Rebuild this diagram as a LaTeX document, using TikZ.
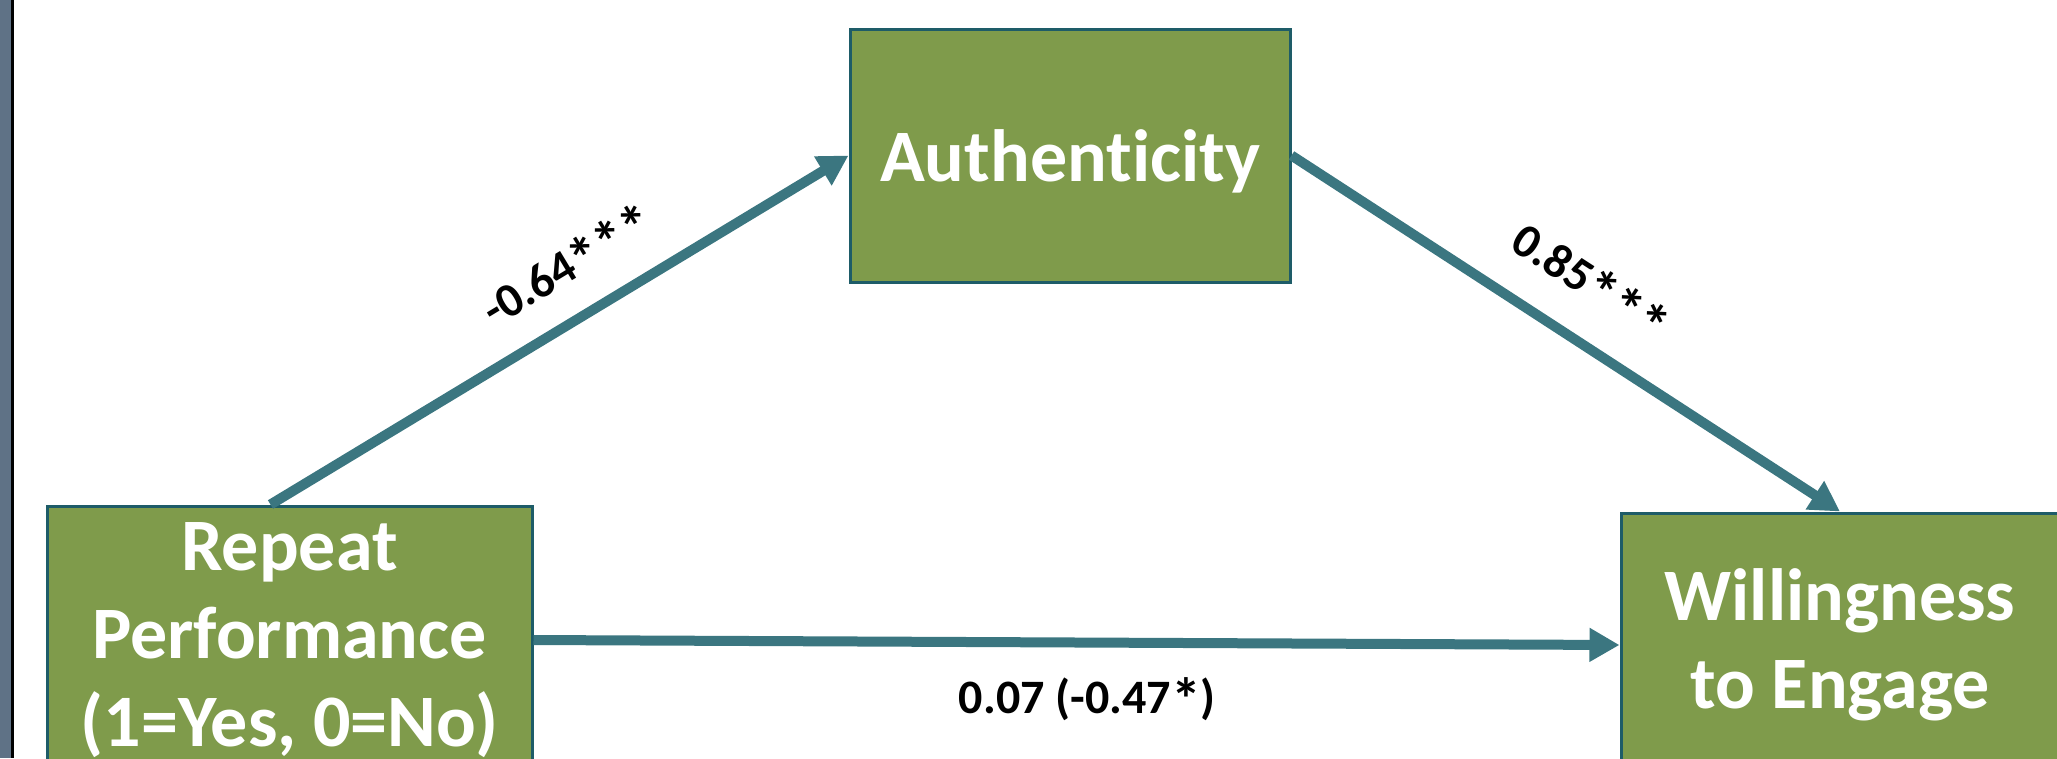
\documentclass[tikz,border=0pt]{standalone}
\usepackage{fontspec}
\setmainfont[Ligatures=NoCommon]{Carlito}
\usetikzlibrary{arrows.meta,positioning}
\definecolor{greenc}{HTML}{7F9B4B}
\definecolor{edgec}{HTML}{1E5C68}
\definecolor{tealc}{HTML}{3B7680}
\definecolor{barc}{HTML}{5F7286}
\newcommand{\sig}[1]{{\fontsize{60}{60}\selectfont\raisebox{-7pt}{#1}}}

\begin{document}
\begin{tikzpicture}[x=1pt, y=-1pt,
  box/.style={draw=edgec, line width=3pt, fill=greenc, text=white, align=center, inner sep=0pt, font=\bfseries\fontsize{74}{88}\selectfont},
  arr/.style={-{Triangle[length=30pt,width=32pt]}, tealc, line width=10pt},
  coef/.style={font=\bfseries\fontsize{48}{56}\selectfont, text=black}]

\useasboundingbox (0,0) rectangle (2057,758);
\clip (0,0) rectangle (2057,758);
\fill[barc] (0,0) rectangle (11,758);
\fill[black] (11,0) rectangle (14,758);

\node[box, minimum width=440pt, minimum height=253pt, text depth=0pt] (auth) at (1070,155.5) {Authenticity};
\node[box, minimum width=485pt, minimum height=268pt, below left=221pt and 315pt of auth] (rep)
  {Repeat\\Performance\\(1=Yes, 0=No)};
\node[box, minimum width=438pt, minimum height=264pt, below right=228pt and 328pt of auth] (will)
  {Willingness\\to Engage};

\draw[arr] ([xshift=-19pt]rep.north) -- node[coef, sloped, above=20pt, pos=0.56] (lab1) {-0.64\sig{***}} (auth.west);
\draw[arr] (auth.east) -- node[coef, sloped, above=25pt, pos=0.49] (lab2) {0.85\sig{***}} (will.north);
\draw[arr] (rep.east) -- node[coef, below=27pt, pos=0.51] (lab3) {0.07 (-0.47\sig{*})} (will.west);
\end{tikzpicture}
\end{document}
